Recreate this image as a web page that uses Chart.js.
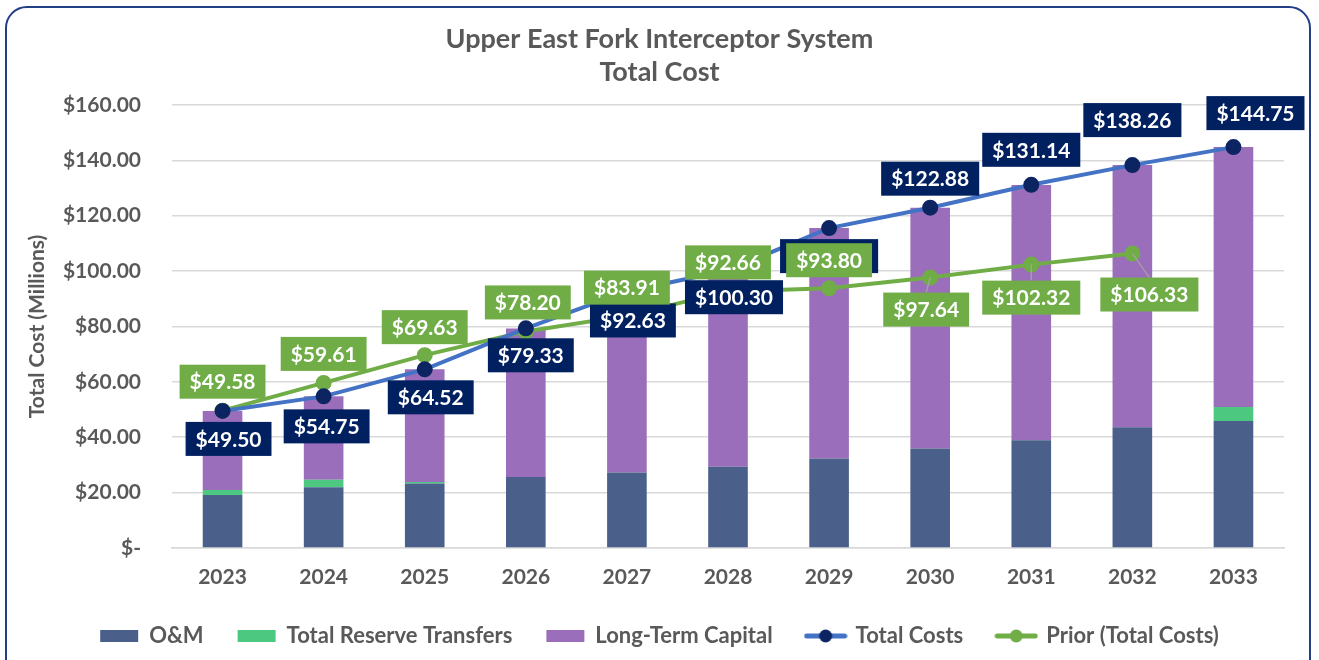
<!DOCTYPE html>
<html>
<head>
<meta charset="utf-8">
<script src="https://cdn.jsdelivr.net/npm/chart.js@4.4.1/dist/chart.umd.min.js"></script>
<style>
  html, body { margin: 0; padding: 0; background: #fff; overflow: hidden; }
  #wrap { position: relative; width: 1319px; height: 660px; }
  #frame {
    position: absolute; left: 5px; top: 6px; width: 1306px; height: 700px;
    border: 2px solid #223f86; border-radius: 22px; box-sizing: border-box;
  }
  canvas { position: absolute; left: 0; top: 0; }
</style>
</head>
<body>
<div id="wrap">
  <div id="frame"></div>
  <canvas id="chart" width="1319" height="660"></canvas>
</div>
<script>
// ---- data (millions of $) ----
const years = ['2023', '2024', '2025', '2026', '2027', '2028', '2029', '2030', '2031', '2032', '2033'];
const omCost = [19.1, 21.9, 23.3, 25.6, 27.3, 29.3, 32.3, 35.9, 38.9, 43.6, 45.9];
const reserveTransfers = [1.8, 2.7, 0.5, 0, 0, 0, 0, 0, 0, 0, 5.0];
const longTermCapital = [28.6, 30.2, 40.7, 53.7, 65.3, 71.0, 83.2, 87.0, 92.2, 94.7, 93.9];
const totalCosts = [49.50, 54.75, 64.52, 79.33, 92.63, 100.30, 115.50, 122.88, 131.14, 138.26, 144.75];
const priorTotal = [49.58, 59.61, 69.63, 78.20, 83.91, 92.66, 93.80, 97.64, 102.32, 106.33, null];
const yTicks = [0, 20, 40, 60, 80, 100, 120, 140, 160];

// label placement (px offset from the point), like Excel's manual moves
const totalLabelShift = [[6, 28], [3, 30], [6, 28], [5, 27], [6, 29], [6, 27], [0, 28], [0, -29], [0, -35], [0, -45], [22, -34]];
const priorLabelShift = [[0, -29], [0, -29], [0, -28], [2, -29], [0, -28], [0, -29], [0, -28], [-4, 32], [0, 33], [17, 41]];

const GREY = '#595959';
const FONT = 'Lato, "Open Sans", sans-serif';

function money(v) {
    return v === 0 ? '$-' : '$' + v.toFixed(2);
}

// small canvases used as legend symbols
function legendRect(color) {
    const c = document.createElement('canvas');
    c.width = 40; c.height = 14;
    const g = c.getContext('2d');
    g.fillStyle = color;
    g.fillRect(1, 1, 38, 12);
    return c;
}
function legendLine(lineColor, dotColor) {
    const c = document.createElement('canvas');
    c.width = 44; c.height = 16;
    const g = c.getContext('2d');
    g.strokeStyle = lineColor;
    g.lineWidth = 5;
    g.lineCap = 'round';
    g.beginPath(); g.moveTo(3, 8); g.lineTo(41, 8); g.stroke();
    g.fillStyle = dotColor;
    g.beginPath(); g.arc(22, 8, 6.5, 0, Math.PI * 2); g.fill();
    return c;
}
const legendIcons = [
    legendRect('#4a608a'),
    legendRect('#4cc880'),
    legendRect('#9b6ebb'),
    legendLine('#4472c4', '#0c2461'),
    legendLine('#70ad47', '#70ad47')
];

// boxed value labels
const boxLabels = {
    id: 'boxLabels',
    afterDatasetsDraw(chart) {
        const ctx = chart.ctx;
        ctx.save();
        ctx.font = 'bold 21px ' + FONT;
        ctx.textAlign = 'center';
        ctx.textBaseline = 'middle';

        const drawSet = (dsIndex, values, shifts, fill, leader) => {
            const meta = chart.getDatasetMeta(dsIndex);
            values.forEach((v, i) => {
                if (v === null) return;
                const pt = meta.data[i];
                const cx = pt.x + shifts[i][0];
                const cy = pt.y + shifts[i][1];
                const text = money(v);
                const w = ctx.measureText(text).width + 20;
                const h = 34;
                if (leader && shifts[i][1] > 30) {
                    ctx.strokeStyle = '#a6a6a6';
                    ctx.lineWidth = 1.2;
                    ctx.beginPath();
                    ctx.moveTo(pt.x, pt.y);
                    ctx.lineTo(cx, cy - h / 2);
                    ctx.stroke();
                }
                ctx.fillStyle = fill;
                ctx.fillRect(cx - w / 2, cy - h / 2, w, h);
                ctx.fillStyle = '#ffffff';
                ctx.fillText(text, cx, cy + 1);
            });
        };

        drawSet(3, totalCosts, totalLabelShift, '#002060', false);
        drawSet(4, priorTotal, priorLabelShift, '#70ad47', true);
        ctx.restore();
    }
};

const ctx = document.getElementById('chart').getContext('2d');

new Chart(ctx, {
    type: 'bar',
    data: {
        labels: years,
        datasets: [
            {
                label: 'O&M', data: omCost, backgroundColor: '#4a608a',
                stack: 'cost', order: 1, barPercentage: 0.49, categoryPercentage: 0.8
            },
            {
                label: 'Total Reserve Transfers', data: reserveTransfers, backgroundColor: '#4cc880',
                stack: 'cost', order: 1, barPercentage: 0.49, categoryPercentage: 0.8
            },
            {
                label: 'Long-Term Capital', data: longTermCapital, backgroundColor: '#9b6ebb',
                stack: 'cost', order: 1, barPercentage: 0.49, categoryPercentage: 0.8
            },
            {
                type: 'line', label: 'Total Costs', data: totalCosts, stack: 'total', order: 0,
                borderColor: '#4472c4', borderWidth: 4, backgroundColor: '#0c2461',
                pointRadius: 6, pointBackgroundColor: '#0c2461', pointBorderColor: '#0c2461'
            },
            {
                type: 'line', label: 'Prior (Total Costs)', data: priorTotal, stack: 'prior', order: 0,
                borderColor: '#70ad47', borderWidth: 4, backgroundColor: '#70ad47',
                pointRadius: 6, pointBackgroundColor: '#70ad47', pointBorderColor: '#70ad47'
            }
        ]
    },
    options: {
        responsive: false,
        animation: false,
        layout: { padding: { left: 35, right: 35, top: 0, bottom: 3 } },
        plugins: {
            title: {
                display: true,
                text: ['Upper East Fork Interceptor System', 'Total Cost'],
                color: GREY,
                font: { family: FONT, size: 27, weight: 'bold', lineHeight: 1.22 },
                padding: { top: 23, bottom: 16 }
            },
            legend: {
                position: 'bottom',
                labels: {
                    usePointStyle: true,
                    pointStyleWidth: 38,
                    color: GREY,
                    font: { family: FONT, size: 22, weight: 'bold' },
                    padding: 34,
                    sort: (a, b) => a.datasetIndex - b.datasetIndex,
                    generateLabels(chart) {
                        const items = Chart.defaults.plugins.legend.labels.generateLabels(chart);
                        items.forEach(it => { it.pointStyle = legendIcons[it.datasetIndex]; });
                        return items;
                    }
                }
            },
            tooltip: { enabled: false }
        },
        scales: {
            x: {
                stacked: true,
                afterFit(scale) { scale.height = 43; },
                grid: { display: false, drawTicks: false },
                border: { color: '#d9d9d9', width: 1.5 },
                ticks: { color: GREY, font: { family: FONT, size: 21, weight: 'bold' }, padding: 17 }
            },
            y: {
                stacked: true,
                min: 0, max: 160,
                afterBuildTicks(scale) { scale.ticks = yTicks.map(v => ({ value: v })); },
                afterFit(scale) { scale.width = 137; },
                grid: { color: '#d9d9d9', lineWidth: 1.5, drawTicks: false },
                border: { display: false },
                title: {
                    display: true, text: 'Total Cost (Millions)', color: GREY,
                    font: { family: FONT, size: 21, weight: 'bold' },
                    padding: { top: -10, bottom: 0 }
                },
                ticks: {
                    color: GREY, padding: 31,
                    font: { family: FONT, size: 21, weight: 'bold' },
                    callback: v => money(v)
                }
            }
        }
    },
    plugins: [boxLabels]
});
</script>
</body>
</html>
